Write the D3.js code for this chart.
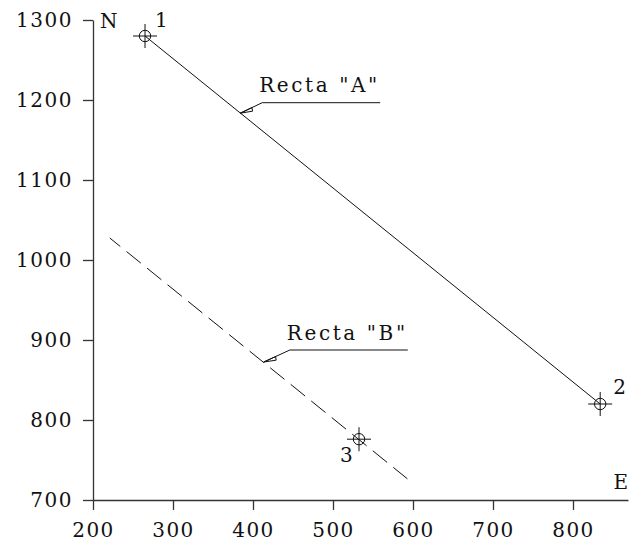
<!DOCTYPE html>
<html>
<head>
<meta charset="utf-8">
<style>
    body { margin: 0; background: #fff; }
    svg text { font-family: "DejaVu Serif", serif; font-size: 20px; fill: #111; }
</style>
</head>
<body>
    <div class="graph"></div>

    <script src="https://d3js.org/d3.v7.min.js"></script>
    <script>
        // data (E = x, N = y)
        var xTicks = [200, 300, 400, 500, 600, 700, 800],
            yTicks = [700, 800, 900, 1000, 1100, 1200, 1300]

        var pointIds = ['1', '2', '3'],
            pointE = [265, 834, 532.5],
            pointN = [1280, 820, 776]

        // line A joins points 1 and 2, line B is the dashed parallel
        var lineBE = [221, 593],
            lineBN = [1027.5, 726.5]

        var lineLabels = ['Recta "A"', 'Recta "B"'],
            leaderE = [384, 413.5],
            leaderN = [1183.5, 872.5]

        var width = 630,
            height = 544,
            margin = { top: 20, left: 93 }

        var x = d3.scaleLinear()
            .domain([200, 868.75])
            .range([margin.left, 628])

        var y = d3.scaleLinear()
            .domain([700, 1300])
            .range([500, margin.top])

        var svg = d3.select('.graph').append('svg')
            .attr('width', width)
            .attr('height', height)

        var x_axis = svg.append('g')
            .attr('class', 'x axis')
            .attr('transform', 'translate(0,' + y(700) + ')')
            .call(d3.axisBottom(x).tickValues(xTicks).tickFormat(d3.format('d'))
                .tickSize(10).tickSizeOuter(0).tickPadding(13))

        var y_axis = svg.append('g')
            .attr('class', 'y axis')
            .attr('transform', 'translate(' + x(200) + ',0)')
            .call(d3.axisLeft(y).tickValues(yTicks).tickFormat(d3.format('d'))
                .tickSize(10).tickSizeOuter(0).tickPadding(10))

        svg.selectAll('.axis path, .axis line')
            .attr('stroke', '#333')
            .attr('stroke-width', 1.3)
        svg.selectAll('.axis text')
            .attr('font-family', '"DejaVu Serif", serif')
            .attr('font-size', 20)
            .attr('letter-spacing', '1.5px')
            .attr('fill', '#111')

        // axis names
        svg.append('text')
            .attr('x', x(200) + 7)
            .attr('y', y(1300) + 7.5)
            .text('N')
        svg.append('text')
            .attr('x', x.range()[1])
            .attr('y', y(700) - 11)
            .attr('text-anchor', 'end')
            .text('E')

        var line = d3.line()
            .x(function (d) { return x(d[0]) })
            .y(function (d) { return y(d[1]) })

        // Recta "A"
        svg.append('path')
            .datum([[pointE[0], pointN[0]], [pointE[1], pointN[1]]])
            .attr('d', line)
            .attr('fill', 'none')
            .attr('stroke', '#111')
            .attr('stroke-width', 1)

        // Recta "B"
        svg.append('path')
            .datum(d3.zip(lineBE, lineBN))
            .attr('d', line)
            .attr('fill', 'none')
            .attr('stroke', '#111')
            .attr('stroke-width', 1)
            .attr('stroke-dasharray', '18.4,8')
            .attr('stroke-dashoffset', 4.9)

        // points with cross and circle
        var pts = svg.selectAll('.pt')
            .data(pointIds)
            .enter().append('g')
            .attr('class', 'pt')
            .attr('transform', function (d, i) {
                return 'translate(' + x(pointE[i]) + ',' + y(pointN[i]) + ')'
            })

        pts.append('circle')
            .attr('r', 5.7)
            .attr('fill', 'none')
            .attr('stroke', '#111')
            .attr('stroke-width', 1)
        pts.append('path')
            .attr('d', 'M-12,0H12M0,-12V12')
            .attr('stroke', '#111')
            .attr('stroke-width', 1)

        var labelOffset = [[10, -9], [13, -10], [-19, 23]]
        pts.append('text')
            .attr('x', function (d, i) { return labelOffset[i][0] })
            .attr('y', function (d, i) { return labelOffset[i][1] })
            .text(function (d) { return d })

        // leader labels
        var lead = svg.selectAll('.lead')
            .data(lineLabels)
            .enter().append('g')
            .attr('class', 'lead')
            .attr('transform', function (d, i) {
                return 'translate(' + x(leaderE[i]) + ',' + y(leaderN[i]) + ')'
            })

        var elbows = [[22, -10.5], [26, -12]],
            runLen = 118
        lead.append('path')
            .attr('d', function (d, i) {
                return 'M0,0L' + elbows[i][0] + ',' + elbows[i][1] + 'h' + runLen
            })
            .attr('fill', 'none')
            .attr('stroke', '#111')
            .attr('stroke-width', 1)

        // small open arrowhead at the tip
        lead.append('path')
            .attr('d', function (d, i) {
                var e = elbows[i],
                    len = Math.hypot(e[0], e[1]),
                    ux = e[0] / len, uy = e[1] / len
                return 'M0,0L' + (ux * 13) + ',' + (uy * 13) +
                    'L' + (ux * 12 - uy * 3.5) + ',' + (uy * 12 + ux * 3.5) + 'Z'
            })
            .attr('fill', 'none')
            .attr('stroke', '#111')
            .attr('stroke-width', 1)

        lead.append('text')
            .attr('x', function (d, i) { return elbows[i][0] - 3 })
            .attr('y', function (d, i) { return elbows[i][1] - 10.5 })
            .attr('letter-spacing', '2.6px')
            .text(function (d) { return d })
    </script>
</body>
</html>
